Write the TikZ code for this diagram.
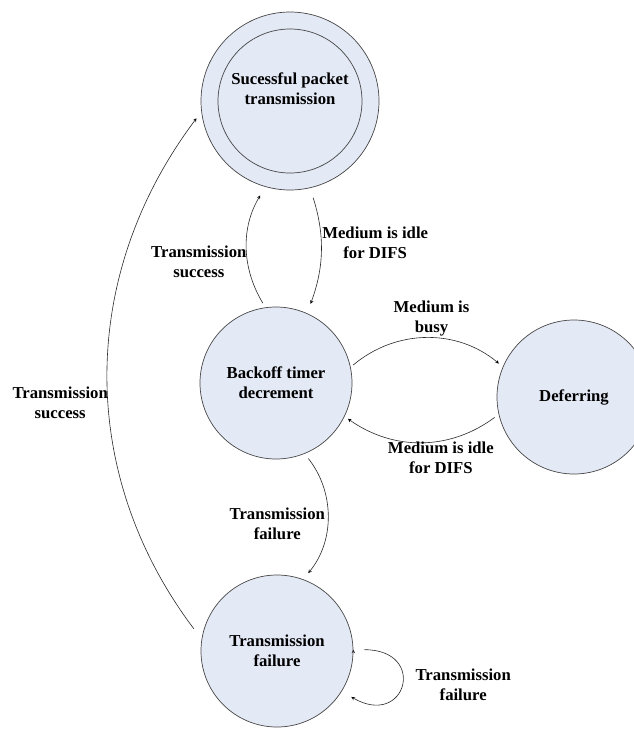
\documentclass[tikz,border=0pt]{standalone}
\usepackage{fontspec}
\setmainfont{Liberation Serif}
\usetikzlibrary{automata,positioning}

\definecolor{statefill}{RGB}{228,233,246}
\definecolor{stateline}{RGB}{70,70,70}
\definecolor{edgeline}{RGB}{40,40,40}

\begin{document}
\begin{tikzpicture}[%
    >=stealth,
    x=1pt, y=1pt,
    auto,
    every state/.style={draw=stateline, fill=statefill, line width=0.7pt,
      minimum size=152pt, inner sep=0pt, align=center,
      font=\fontsize{16.7}{20}\selectfont\bfseries},
    goal/.style={minimum size=178pt, text depth=24pt,
      path picture={\draw[stateline, line width=0.7pt]
        (path picture bounding box.center) circle (72pt);}},
    lbl/.style={font=\fontsize{16.7}{20}\selectfont\bfseries, align=center,
      inner sep=1.5pt},
  ]
    \useasboundingbox (0,0) rectangle (633,-729);

    \node[state,goal] (succ)    at (290,-101) {Sucessful packet\\transmission};
    \node[state]      (backoff) at (276,-383) {Backoff timer\\decrement};
    \node[state,minimum size=154pt] (defer) at (574,-397) {Deferring};
    \node[state]      (fail)    at (277,-651) {Transmission\\failure};

    \path[->, draw=edgeline, line width=0.6pt]
    (backoff.98) edge [bend left=31, shorten <=5pt, shorten >=10pt]
      node [lbl, pos=0.38, anchor=east] {Transmission\\success} (succ.254)
    (succ.283.5) edge [bend left=19, shorten <=10pt, shorten >=10pt]
      node [lbl, pos=0.43, anchor=west] {Medium is idle\\for DIFS} (backoff.66.4)
    (backoff.12) edge [bend left=40, shorten <=3pt, shorten >=5pt]
      node [lbl, pos=0.53, anchor=south] {Medium is\\busy} (defer.157)
    (defer.193) edge [bend left=36, shorten <=5pt, shorten >=4pt]
      node [lbl, pos=0.38, anchor=north] {Medium is idle\\for DIFS} (backoff.334)
    (backoff.292.5) edge [bend left=39, shorten <=6pt, shorten >=8pt]
      node [lbl, pos=0.55, anchor=east] {Transmission\\failure} (fail.70)
    (fail.171) edge [bend left=37, shorten <=13pt, shorten >=8pt]
      node [lbl, pos=0.45, anchor=east] {Transmission\\success} (succ.187)
    (fail.1) edge [out=0, in=-30, looseness=4.4, shorten <=11pt, shorten >=11pt]
      node [lbl, anchor=west, xshift=14pt] {Transmission\\failure} (fail.-32)
    ;
  \end{tikzpicture}
\end{document}
